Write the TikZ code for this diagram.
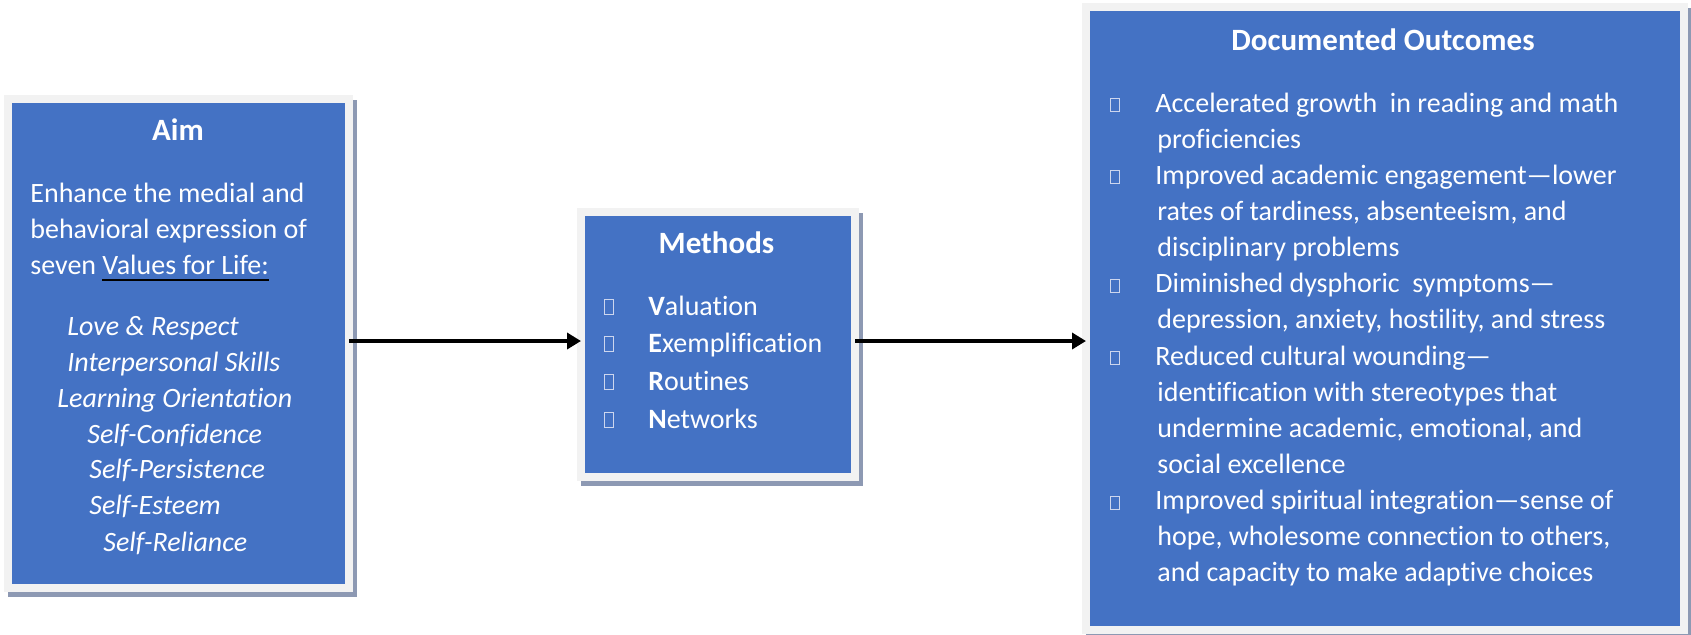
\documentclass[tikz,border=0pt]{standalone}
\usepackage{fontspec}
\setmainfont{Carlito}[Ligatures={TeX,NoCommon}]
\usepackage{xcolor}
\usepackage{tikz}
\usetikzlibrary{arrows.meta,positioning}
\tikzset{>={Triangle[length=7pt,width=8pt]}}

\definecolor{boxblue}{HTML}{4472C4}
\definecolor{framegray}{HTML}{F2F2F2}
\definecolor{shadowgray}{RGB}{141,153,179}
\definecolor{tofugray}{RGB}{205,214,238}

% black underline under white text
\newcommand{\blackul}[1]{\setbox0\hbox{#1}\rlap{\color{black}\rule[-3.5pt]{\wd0}{1pt}}\box0}

\begin{document}
\begin{tikzpicture}[x=0.5pt, y=-0.5pt,
                    panel/.style={draw=framegray, line width=4pt, fill=boxblue, inner sep=0pt,
                                  preaction={draw=shadowgray, fill=shadowgray, line width=4pt,
                                             transform canvas={xshift=2pt,yshift=-2.5pt}}},
                    link/.style={->, line width=1.75pt, black, shorten <=-2pt, shorten >=-2pt},
                    title/.style={text=white, inner sep=0pt, anchor=base,
                                  font=\fontsize{15.5}{18}\selectfont\bfseries},
                    body/.style={text=white, inner sep=0pt, anchor=base west,
                                 font=\fontsize{14}{18}\selectfont},
                    value/.style={body, font=\fontsize{14}{18}\selectfont\itshape},
                    tofu/.style={draw=tofugray, line width=0.5pt, inner sep=0pt, anchor=south west,
                                 minimum width=4.5pt, minimum height=7.5pt},
                   ]

\useasboundingbox (0,0) rectangle (1691,634);

% the three panels
\node[panel, minimum width=170.5pt, minimum height=244.5pt] (aim) at (178.5,343.5) {};
\node[panel, minimum width=137pt, minimum height=132.5pt] (methods) at (718,344.5) {};
\node[panel, minimum width=299pt, minimum height=311.5pt] (outcomes) at (1385,318.5) {};

% arrows
\coordinate (flow) at (0,341);
\draw[link] (aim.east |- flow) -- (methods.west |- flow);
\draw[link] (methods.east |- flow) -- (outcomes.west |- flow);

% aim
\node[title] (aimtitle) at (178,140) {Aim};
\foreach \y/\t [count=\i] in {202/Enhance the medial and, 238/behavioral expression of,
                              274/seven \blackul{Values for Life:}}
  \node[body] (aimtext-\i) at (30,\y) {\t};
\foreach \x/\y/\t [count=\i] in {67/335/Love \& Respect, 67/371/Interpersonal Skills,
                                 57/407/Learning Orientation, 87/443/Self-Confidence,
                                 89/478/Self-Persistence, 89/514/Self-Esteem, 103/551/Self-Reliance}
  \node[value] (value-\i) at (\x,\y) {\t};

% methods
\node[title] (methodstitle) at (716.5,253) {Methods};
\foreach \y/\k/\t [count=\i] in {315/V/aluation, 352/E/xemplification, 390/R/outines, 428/N/etworks} {
  \node[tofu] (mbullet-\i) at (604,\y) {};
  \node[body] (method-\i) at (648,\y) {\textbf{\k}\t};
}

% outcomes
\node[title] (outtitle) at (1383,50) {Documented Outcomes};
\foreach \x/\t [count=\i] in {1155/Accelerated growth~ in reading and math,
                              1157/proficiencies,
                              1155/Improved academic engagement—lower,
                              1157/{rates of tardiness, absenteeism, and},
                              1157/disciplinary problems,
                              1155/Diminished dysphoric~ symptoms—,
                              1157/{depression, anxiety, hostility, and stress},
                              1155/Reduced cultural wounding—,
                              1157/identification with stereotypes that,
                              1157/{undermine academic, emotional, and},
                              1157/social excellence,
                              1155/Improved spiritual integration—sense of,
                              1157/{hope, wholesome connection to others,},
                              1157/and capacity to make adaptive choices}
  \node[body] (outline-\i) at (\x,{112+36.15*(\i-1)}) {\t};
\foreach \i in {1,3,6,8,12}
  \node[tofu, minimum height=6.5pt] (obullet-\i) at (1110,{112+36.15*(\i-1)}) {};

\end{tikzpicture}
\end{document}
